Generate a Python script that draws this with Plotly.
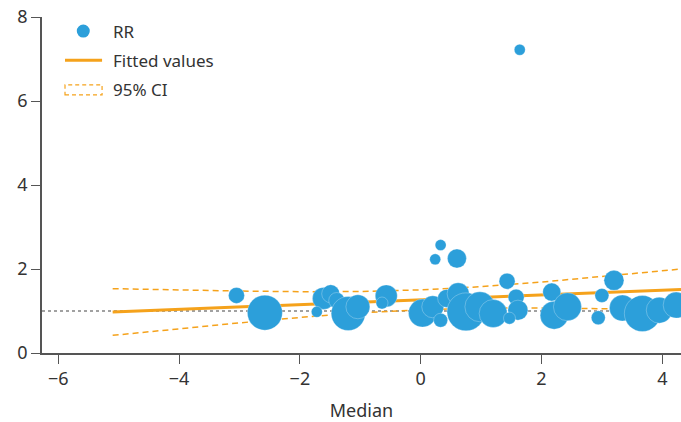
import plotly.graph_objects as go

# ---- data ----
rr_x = [1.64, 0.33, 0.24, 0.60, -3.05, -2.58, -1.61, -1.49, -1.39, -1.72, -1.20, -1.04,
        -0.57, -0.64, 0.03, 0.20, 0.33, 0.43, 0.62, 0.75, 0.98, 1.20, 1.43, 1.58, 1.61,
        1.47, 2.17, 2.21, 2.43, 3.00, 2.94, 3.20, 3.34, 3.67, 3.95, 4.23]
rr_y = [7.22, 2.57, 2.23, 2.25, 1.37, 0.96, 1.30, 1.41, 1.25, 0.98, 0.94, 1.10,
        1.36, 1.19, 0.95, 1.10, 0.78, 1.30, 1.41, 0.98, 1.10, 0.94, 1.71, 1.33, 1.02,
        0.83, 1.45, 0.90, 1.10, 1.37, 0.84, 1.73, 1.07, 0.94, 1.02, 1.14]
rr_w = [11, 11, 11, 19, 16, 35, 22, 18, 16, 11, 34, 24,
        22, 12, 28, 22, 14, 18, 22, 38, 30, 28, 16, 16, 20,
        12, 18, 28, 28, 14, 14, 20, 26, 36, 26, 26]

fit_x = [-5.1, 4.31]
fit_y = [0.976, 1.513]

ci_x = [-5.1, -4.0, -3.0, -2.0, -1.0, 0.0, 1.0, 2.0, 3.0, 4.31]
ci_upper = [1.532, 1.499, 1.475, 1.460, 1.465, 1.503, 1.579, 1.688, 1.817, 1.999]
ci_lower = [0.420, 0.579, 0.717, 0.846, 0.955, 1.031, 1.069, 1.074, 1.059, 1.026]

x_ticks = [-6, -4, -2, 0, 2, 4]
y_ticks = [0, 2, 4, 6, 8]
ref_value = 1

legend_labels = ["RR", "Fitted values", "95% CI"]
x_title = "Median"

# ---- styles ----
BLUE = "#2c9fda"
ORANGE = "#f5a21b"
AXIS = "#555555"
TEXT = "#333333"
FONT = "Noto Sans"

fig = go.Figure()

fig.add_trace(go.Scatter(x=ci_x, y=ci_upper, mode="lines",
                         line=dict(color=ORANGE, width=1.5, dash="6px,4px"),
                         showlegend=False, hoverinfo="skip"))
fig.add_trace(go.Scatter(x=ci_x, y=ci_lower, mode="lines",
                         line=dict(color=ORANGE, width=1.5, dash="6px,4px"),
                         showlegend=False, hoverinfo="skip"))
fig.add_trace(go.Scatter(x=fit_x, y=fit_y, mode="lines",
                         line=dict(color=ORANGE, width=3),
                         showlegend=False))
fig.add_trace(go.Scatter(x=rr_x, y=rr_y, mode="markers",
                         marker=dict(size=rr_w, color=BLUE, opacity=1,
                                     line=dict(width=0.6, color="rgba(255,255,255,0.45)")),
                         showlegend=False))

# reference line at y = 1
fig.add_shape(type="line", xref="paper", yref="y", x0=0, x1=1, y0=ref_value, y1=ref_value,
              line=dict(color="#444444", width=1.2, dash="dot"), layer="below")

# ---- manual legend (top-left, inside the plot) ----
fig.add_shape(type="circle", xref="paper", yref="paper", xsizemode="pixel", ysizemode="pixel",
              xanchor=0.0646, yanchor=0.958, x0=-6.5, x1=6.5, y0=-6.5, y1=6.5,
              fillcolor=BLUE, line=dict(width=0))
fig.add_shape(type="line", xref="paper", yref="paper", x0=0.036, x1=0.094, y0=0.871, y1=0.871,
              line=dict(color=ORANGE, width=3))
fig.add_shape(type="rect", xref="paper", yref="paper", x0=0.036, x1=0.094, y0=0.768, y1=0.798,
              line=dict(color=ORANGE, width=1.2, dash="4px,3px"), fillcolor="rgba(0,0,0,0)")
for lab, yy in zip(legend_labels, [0.958, 0.871, 0.783]):
    fig.add_annotation(text=lab, xref="paper", yref="paper", x=0.108, y=yy,
                       xanchor="left", yanchor="middle", showarrow=False,
                       font=dict(family=FONT, size=17, color=TEXT))

fig.update_layout(
    width=681, height=422,
    margin=dict(l=42, r=0, t=17, b=69),
    plot_bgcolor="white", paper_bgcolor="white",
    font=dict(family=FONT, size=18, color=TEXT),
    showlegend=False,
    hovermode=False,
    xaxis=dict(range=[-6.27, 4.31], tickvals=x_ticks, showgrid=False, zeroline=False,
               showline=True, linecolor=AXIS, linewidth=1.5,
               ticks="outside", ticklen=9, tickwidth=1.3, tickcolor=AXIS,
               tickfont=dict(size=18, color=TEXT), ticklabeloverflow="allow",
               title=dict(text=x_title, font=dict(size=18, color=TEXT), standoff=17)),
    yaxis=dict(range=[0, 8], tickvals=y_ticks, showgrid=False, zeroline=False,
               showline=True, linecolor=AXIS, linewidth=1.5,
               ticks="outside", ticklen=9, tickwidth=1.3, tickcolor=AXIS,
               tickfont=dict(size=18, color=TEXT), ticklabeloverflow="allow"),
)

# remove the page's default body margin so the 681x422 figure fills the window exactly
fig.write_html("out.html", config={"displayModeBar": False},
               post_script="document.body.style.margin='0';document.body.style.overflow='hidden';")
